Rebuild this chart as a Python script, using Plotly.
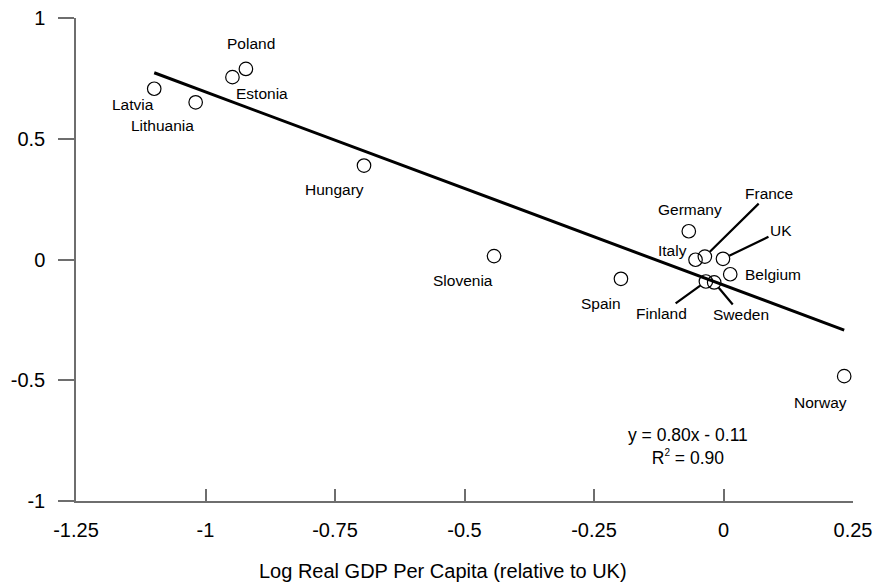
import plotly.graph_objects as go

# ---- data ----
countries = ["Latvia", "Lithuania", "Estonia", "Poland", "Hungary", "Slovenia",
             "Spain", "Germany", "Italy", "France", "UK", "Belgium",
             "Finland", "Sweden", "Norway"]
log_gdp = [-1.099, -1.019, -0.948, -0.922, -0.694, -0.443,
           -0.198, -0.067, -0.054, -0.036, -0.001, 0.013,
           -0.034, -0.018, 0.233]
yvals = [0.707, 0.651, 0.755, 0.789, 0.389, 0.014,
         -0.080, 0.117, -0.001, 0.012, 0.003, -0.061,
         -0.091, -0.095, -0.483]
fit_slope = -0.80
fit_intercept = -0.106
equation_text = ("y = 0.80x - 0.11<br>R<sup><span style='font-size:10px'>2</span></sup>"
                 " = 0.90")
x_tickvals = [-1.25, -1.0, -0.75, -0.5, -0.25, 0.0, 0.25]
x_ticktext = ["-1.25", "-1", "-0.75", "-0.5", "-0.25", "0", "0.25"]
y_tickvals = [-1.0, -0.5, 0.0, 0.5, 1.0]
y_ticktext = ["-1", "-0.5", "0", "0.5", "1"]
x_title = "Log Real GDP Per Capita (relative to UK)"

# label placement (pixel offsets from point): (dx, dy, use_leader)
label_offsets = {
    "Latvia": (-21, -16, False),
    "Lithuania": (-33, -23, False),
    "Estonia": (30, -16, False),
    "Poland": (5, 25, False),
    "Hungary": (-30, -24, False),
    "Slovenia": (-31, -24, False),
    "Spain": (-20, -25, False),
    "Germany": (1, 22, False),
    "Italy": (-23, 9, False),
    "Belgium": (43, 0, False),
    "Norway": (-24, -26, False),
    "France": (64, 63, True),
    "UK": (58, 28, True),
    "Finland": (-44, -32, True),
    "Sweden": (27, -32, True),
}

FONT = "Liberation Sans, Arial, Helvetica, sans-serif"
AXIS_COLOR = "#6e6e6e"

fig = go.Figure()

# regression line across data range
x0, x1 = min(log_gdp), max(log_gdp)
fig.add_trace(go.Scatter(
    x=[x0, x1],
    y=[fit_slope * x0 + fit_intercept, fit_slope * x1 + fit_intercept],
    mode="lines", line=dict(color="black", width=3),
    hoverinfo="skip", showlegend=False,
))

fig.add_trace(go.Scatter(
    x=log_gdp, y=yvals, mode="markers", text=countries,
    marker=dict(symbol="circle-open", size=13.5, color="black",
                line=dict(width=1.2, color="black")),
    showlegend=False,
))

annotations = []
for name, xv, yv in zip(countries, log_gdp, yvals):
    dx, dy, leader = label_offsets[name]
    if leader:
        annotations.append(dict(
            x=xv, y=yv, xref="x", yref="y", text=name,
            showarrow=True, ax=dx, ay=-dy, arrowhead=0, arrowwidth=2.2,
            arrowcolor="black", standoff=7,
            font=dict(family=FONT, size=15.5, color="black"),
        ))
    else:
        annotations.append(dict(
            x=xv, y=yv, xref="x", yref="y", text=name, showarrow=False,
            xshift=dx, yshift=dy,
            font=dict(family=FONT, size=15.5, color="black"),
        ))

annotations.append(dict(
    x=-0.069, y=-0.774, xref="x", yref="y", text=equation_text,
    showarrow=False, align="center",
    font=dict(family=FONT, size=17.5, color="black"),
))

# axis title (centred on the figure, below tick labels)
annotations.append(dict(
    x=(443 - 76) / 777, y=0, xref="paper", yref="paper",
    text=x_title, showarrow=False, xanchor="center", yanchor="middle",
    yshift=-70,
    font=dict(family=FONT, size=20, color="black"),
))

fig.update_layout(
    width=886, height=586,
    margin=dict(l=76, r=33, t=18, b=85),
    paper_bgcolor="white", plot_bgcolor="white",
    font=dict(family=FONT, size=20, color="black"),
    annotations=annotations,
    xaxis=dict(
        range=[-1.25, 0.25], tickvals=x_tickvals, ticktext=x_ticktext,
        showgrid=False, zeroline=False, showline=True, automargin=False,
        linecolor=AXIS_COLOR, linewidth=1.5,
        ticks="inside", ticklen=12, tickwidth=1.5, tickcolor=AXIS_COLOR,
        ticklabelstandoff=10,
        tickfont=dict(family=FONT, size=20, color="black"),
    ),
    yaxis=dict(
        range=[-1, 1], tickvals=y_tickvals, ticktext=y_ticktext,
        showgrid=False, zeroline=False, showline=True, automargin=False,
        linecolor=AXIS_COLOR, linewidth=1.5,
        ticks="outside", ticklen=16, tickwidth=1.5, tickcolor=AXIS_COLOR,
        ticklabelstandoff=9,
        tickfont=dict(family=FONT, size=20, color="black"),
    ),
)

fig.write_html(
    "out.html",
    config={"displayModeBar": False},
    post_script="document.body.style.margin='0';document.body.style.padding='0';",
)
